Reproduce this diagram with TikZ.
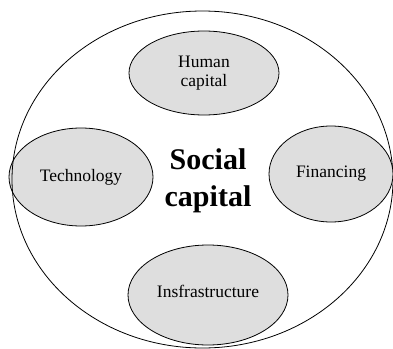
\documentclass[tikz,border=0pt]{standalone}
\usepackage{fontspec}
\setmainfont{Liberation Serif}
\usetikzlibrary{shapes.geometric}
\definecolor{ellgray}{HTML}{DEDEDE}
\begin{document}
\begin{tikzpicture}[x=1pt,y=-1pt,
  part/.style={fill=ellgray,draw=black,line width=0.8pt},
  lbl/.style={font=\fontsize{17.5}{18.5}\selectfont,align=center}]
\useasboundingbox (0,0) rectangle (393,348);
\path[part] (81,177) ellipse [x radius=72,y radius=49];
\draw[line width=0.8pt] (202.5,179.5) ellipse [x radius=190.5,y radius=168.5];
\path[part] (204,73) ellipse [x radius=75,y radius=42];
\path[part] (331,174) ellipse [x radius=62,y radius=48];
\path[part] (208,295) ellipse [x radius=80,y radius=50];
\node[lbl] (human) at (204,73) {Human\\capital};
\node[lbl] (tech) at (81,177) {Technology};
\node[lbl] (fin) at (331,174) {Financing};
\node[lbl] (infra) at (208,291) {Insfrastructure};
\node[font=\fontsize{30}{37}\selectfont\bfseries,align=center] (social) at (208,181) {Social\\capital};
\end{tikzpicture}
\end{document}
